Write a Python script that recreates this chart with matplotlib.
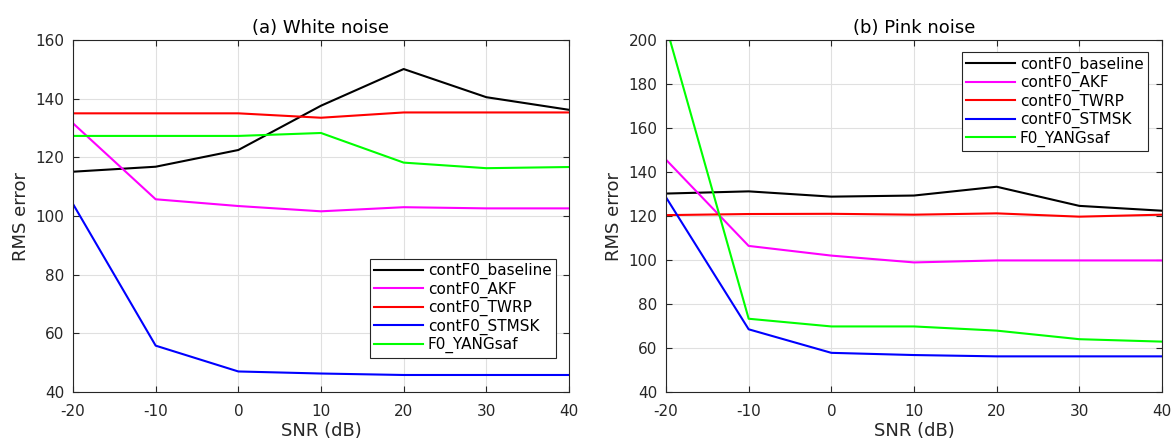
import matplotlib
matplotlib.use('Agg')
import matplotlib.pyplot as plt

snr = [-20, -10, 0, 10, 20, 30, 40]
labels = ['contF0_baseline', 'contF0_AKF', 'contF0_TWRP', 'contF0_STMSK', 'F0_YANGsaf']
colors = ['black', 'magenta', 'red', 'blue', 'lime']

# (a) white noise
white_baseline = [115.1, 116.8, 122.5, 137.6, 150.1, 140.5, 136.2]
white_akf = [131.6, 105.7, 103.4, 101.6, 103.0, 102.6, 102.6]
white_twrp = [135.0, 135.0, 135.0, 133.5, 135.3, 135.3, 135.3]
white_stmsk = [104.1, 55.8, 47.0, 46.3, 45.8, 45.8, 45.8]
white_yang = [127.3, 127.3, 127.3, 128.3, 118.2, 116.3, 116.7]

# (b) pink noise
pink_baseline = [130.2, 131.2, 128.8, 129.3, 133.3, 124.6, 122.4]
pink_akf = [145.6, 106.4, 102.0, 98.9, 99.8, 99.8, 99.8]
pink_twrp = [120.4, 120.9, 121.0, 120.6, 121.2, 119.7, 120.6]
pink_stmsk = [128.5, 68.5, 57.8, 56.8, 56.2, 56.2, 56.2]
pink_yang = [206.4, 73.3, 69.8, 69.8, 67.9, 64.0, 62.9]

white = [white_baseline, white_akf, white_twrp, white_stmsk, white_yang]
pink = [pink_baseline, pink_akf, pink_twrp, pink_stmsk, pink_yang]

plt.rcParams['font.family'] = 'DejaVu Sans'
plt.rcParams['axes.unicode_minus'] = False
fig = plt.figure(figsize=(11.75, 4.43), dpi=100)
ax1 = fig.add_axes([73/1175, 1-392/443, 496/1175, 352/443])
ax2 = fig.add_axes([666/1175, 1-392/443, 496/1175, 352/443])

# legend anchors (axes fraction): lower right for (a), upper right for (b)
panels = [(ax1, white, '(a) White noise', (40, 160), 'lower right', (0.974, 0.097)),
          (ax2, pink, '(b) Pink noise', (40, 200), 'upper right', (0.972, 0.966))]

for ax, data, title, ylim, loc, anchor in panels:
    for ys, lab, c in zip(data, labels, colors):
        ax.plot(snr, ys, color=c, lw=1.5, label=lab)
    ax.set_xlim(-20, 40)
    ax.set_ylim(*ylim)
    ax.set_xticks(snr)
    ax.set_yticks(range(ylim[0], ylim[1] + 1, 20))
    ax.grid(True, color='#e0e0e0', lw=0.8)
    ax.set_axisbelow(True)
    ax.tick_params(direction='in', top=True, right=True, labelsize=11,
                   colors='#262626', length=4)
    ax.tick_params(axis='x', pad=9)
    ax.tick_params(axis='y', pad=6)
    for sp in ax.spines.values():
        sp.set_color('#262626')
        sp.set_linewidth(0.8)
    ax.set_title(title, fontsize=13, color='black', pad=5)
    ax.set_xlabel('SNR (dB)', fontsize=13, color='#262626', labelpad=2)
    ax.set_ylabel('RMS error', fontsize=13, color='#262626', labelpad=4)
    leg = ax.legend(loc=loc, bbox_to_anchor=anchor, fontsize=11, handlelength=3.2,
                    handletextpad=0.3, labelspacing=0.15, borderpad=0.3,
                    fancybox=False, framealpha=1, edgecolor='#262626',
                    borderaxespad=0)
    leg.get_frame().set_linewidth(0.8)

fig.savefig('out.png', dpi=100)
